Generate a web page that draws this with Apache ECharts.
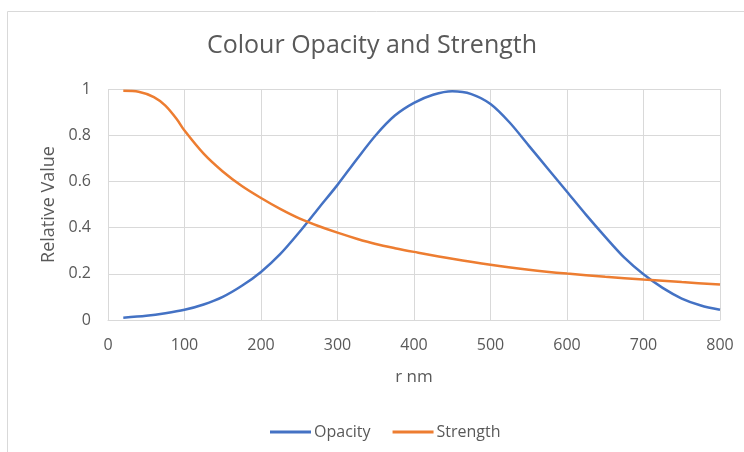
<!DOCTYPE html>
<html><head><meta charset="utf-8">
<script src="https://cdn.jsdelivr.net/npm/echarts@6/dist/echarts.min.js"></script>
<style>html,body{margin:0;padding:0;background:#fff}#c{width:744px;height:452px}</style>
</head><body><div id="c"></div>
<script>
const opacityX = [20, 50, 75, 100, 125, 150, 175, 200, 225, 250, 275, 300, 325, 350, 375, 400, 425, 450, 475, 500, 525, 550, 575, 600, 625, 650, 675, 700, 725, 750, 775, 800];
const opacity = [0.01, 0.018, 0.029, 0.044, 0.067, 0.10, 0.148, 0.208, 0.285, 0.38, 0.483, 0.585, 0.695, 0.80, 0.885, 0.94, 0.975, 0.99, 0.978, 0.935, 0.855, 0.755, 0.655, 0.555, 0.455, 0.36, 0.27, 0.198, 0.139, 0.093, 0.063, 0.044];
const strengthX = [20, 40, 60, 75, 90, 100, 125, 150, 175, 200, 225, 250, 275, 300, 325, 350, 375, 400, 450, 500, 550, 600, 650, 700, 750, 800];
const strength = [0.992, 0.988, 0.965, 0.928, 0.869, 0.82, 0.72, 0.643, 0.58, 0.528, 0.481, 0.44, 0.407, 0.378, 0.352, 0.329, 0.311, 0.295, 0.265, 0.239, 0.218, 0.201, 0.187, 0.175, 0.164, 0.154];
const seriesNames = ['Opacity', 'Strength'];
const titleText = 'Colour Opacity and Strength';
const xTitle = 'r nm';
const yTitle = 'Relative Value';

const font = 'Open Sans';
const grey = '#595959';
const chart = echarts.init(document.getElementById('c'));
chart.setOption({
  animation: false,
  textStyle: {fontFamily: font},
  graphic: [{type: 'rect', shape: {x: 7.5, y: 11.5, width: 800, height: 500}, style: {fill: null, stroke: '#d9d9d9', lineWidth: 1}, silent: true}],
  title: {text: titleText, left: 'center', top: 28, textStyle: {fontFamily: font, fontSize: 25, fontWeight: 'normal', color: grey}},
  legend: {bottom: 7, left: 265, itemWidth: 41, itemHeight: 3, itemGap: 22, icon: 'rect',
    textStyle: {fontFamily: font, fontSize: 16, color: grey, padding: [0, 0, 0, -2]}, data: seriesNames},
  grid: {left: 108, right: 24, top: 89, bottom: 132},
  xAxis: {type: 'value', min: 0, max: 800, interval: 100,
    name: xTitle, nameLocation: 'middle', nameGap: 49, nameTextStyle: {fontFamily: font, fontSize: 17, color: grey},
    axisLine: {lineStyle: {color: '#d9d9d9', width: 1}}, axisTick: {show: false},
    axisLabel: {color: grey, fontSize: 16, margin: 17},
    splitLine: {show: true, lineStyle: {color: '#d9d9d9', width: 1}}},
  yAxis: {type: 'value', min: 0, max: 1, interval: 0.2,
    name: yTitle, nameLocation: 'middle', nameGap: 49, nameTextStyle: {fontFamily: font, fontSize: 18, color: grey},
    axisLine: {show: false}, axisTick: {show: false},
    axisLabel: {color: grey, fontSize: 16, margin: 17, formatter: v => String(Math.round(v * 10) / 10)},
    splitLine: {show: true, lineStyle: {color: '#d9d9d9', width: 1}}},
  series: [
    {name: seriesNames[0], type: 'line', smooth: 0.3, showSymbol: false, symbol: 'none', color: '#4472c4', lineStyle: {width: 2.5, color: '#4472c4'},
      data: opacityX.map((x, i) => [x, opacity[i]])},
    {name: seriesNames[1], type: 'line', smooth: 0.3, showSymbol: false, symbol: 'none', color: '#ed7d31', lineStyle: {width: 2.5, color: '#ed7d31'},
      data: strengthX.map((x, i) => [x, strength[i]])}
  ]
});
</script></body></html>
